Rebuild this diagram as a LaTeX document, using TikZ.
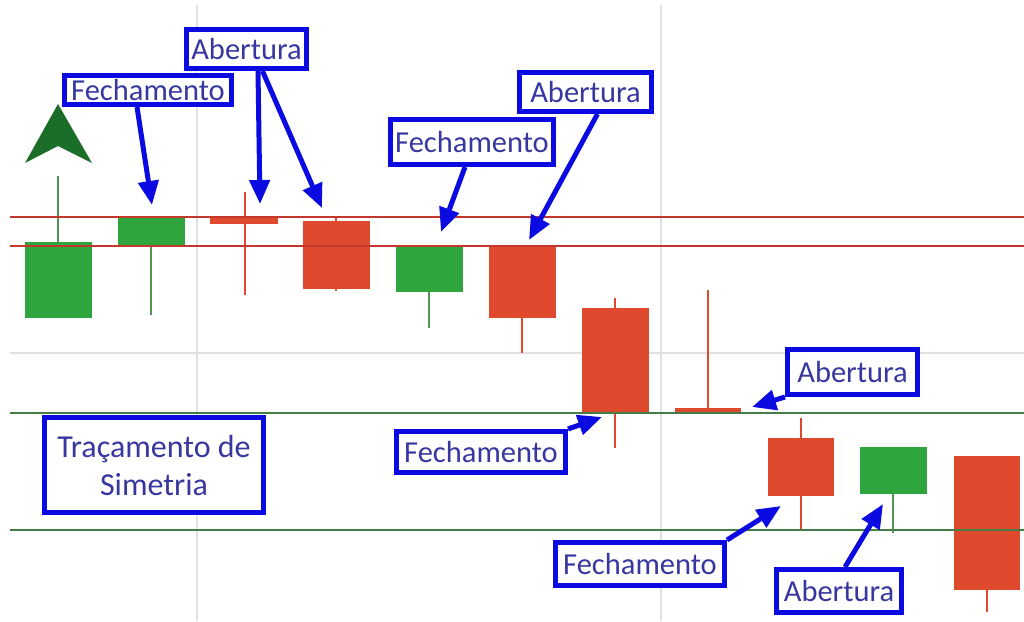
\documentclass[tikz,border=0pt]{standalone}
\usepackage{fontspec}
\setmainfont{Carlito}
\usetikzlibrary{arrows.meta}
\definecolor{cgreen}{RGB}{47,165,62}
\definecolor{cgreenw}{RGB}{80,150,85}
\definecolor{cred}{RGB}{223,74,46}
\definecolor{mgreen}{RGB}{27,110,40}
\definecolor{rline}{RGB}{195,55,45}
\definecolor{gline}{RGB}{70,125,70}
\definecolor{ggray}{RGB}{225,225,225}
\definecolor{bblue}{RGB}{10,10,225}
\definecolor{tblue}{RGB}{55,55,160}
\tikzset{
  lbl/.style={draw=bblue, line width=5pt, fill=white, text=tblue, inner sep=0pt,
    font=\fontsize{30.5}{37}\selectfont, align=center},
  arr/.style={draw=bblue, line width=5pt, -{Triangle[length=24pt,width=20pt]}},
  gw/.style={draw=cgreenw, line width=2pt},
  rw/.style={draw=cred, line width=2pt},
  gbody/.style={fill=cgreen},
  rbody/.style={fill=cred},
  hl/.style={line width=2pt},
  grid/.style={draw=ggray, line width=1.5pt}
}
\begin{document}
\begin{tikzpicture}[x=1pt,y=-1pt]
\useasboundingbox[fill=white] (0,0) rectangle (1024,621);
% grid
\draw[grid] (197,5) -- (197,621);
\draw[grid] (661,5) -- (661,621);
\draw[grid] (10,353) -- (1024,353);
% wicks
\draw[gw] (58,176) -- (58,242);
\draw[gw] (151,245) -- (151,315);
\draw[rw] (245,192) -- (245,295);
\draw[rw] (336,216) -- (336,291);
\draw[gw] (429,292) -- (429,328);
\draw[rw] (522,318) -- (522,353);
\draw[rw] (615,298) -- (615,448);
\draw[rw] (708,290) -- (708,411);
\draw[rw] (801,418) -- (801,530);
\draw[gw] (893,494) -- (893,533);
\draw[rw] (987,590) -- (987,612);
% bodies
\fill[gbody] (25,242) rectangle (92,318);
\fill[gbody] (118,217) rectangle (185,245);
\fill[rbody] (210,218) rectangle (278,224);
\fill[rbody] (303,221) rectangle (370,289);
\fill[gbody] (396,247) rectangle (463,292);
\fill[rbody] (489,247) rectangle (556,318);
\fill[rbody] (582,308) rectangle (649,412);
\fill[rbody] (675,408) rectangle (741,412);
\fill[rbody] (768,438) rectangle (834,496);
\fill[gbody] (860,447) rectangle (927,494);
\fill[rbody] (954,456) rectangle (1020,590);
% level lines
\draw[hl, rline] (10,217) -- (1024,217);
\draw[hl, rline] (10,246) -- (1024,246);
\draw[hl, gline] (10,413) -- (1024,413);
\draw[hl, gline] (10,530) -- (1024,530);
% marker
\fill[mgreen] (58,104) -- (25,163) -- (58,146) -- (92,163) -- cycle;
% arrow targets
\coordinate (t1) at (152,205);
\coordinate (t2) at (260,204);
\coordinate (t3) at (322,208);
\coordinate (t4) at (441,232);
\coordinate (t5) at (529,240);
\coordinate (t6) at (752,407);
\coordinate (t7) at (602,417);
\coordinate (t8) at (781,506);
\coordinate (t9) at (883,504);
% labels
\node[lbl, minimum width=167pt, minimum height=29pt] (A) at (148,90) {Fechamento};
\node[lbl, minimum width=120pt, minimum height=39pt] (B) at (246.5,49) {Abertura};
\node[lbl, minimum width=163pt, minimum height=45pt] (C) at (472,142) {Fechamento};
\node[lbl, minimum width=132pt, minimum height=39pt] (D) at (585.5,92) {Abertura};
\node[lbl, minimum width=130pt, minimum height=45pt] (E) at (852.5,372) {Abertura};
\node[lbl, minimum width=169pt, minimum height=41pt] (F) at (481,452) {Fechamento};
\node[lbl, minimum width=169pt, minimum height=43pt] (G) at (640,564) {Fechamento};
\node[lbl, minimum width=125pt, minimum height=43pt] (H) at (839,591) {Abertura};
\node[lbl, minimum width=219pt, minimum height=95pt, font=\fontsize{32}{38}\selectfont] (T) at (154,465) {Traçamento de\\Simetria};
% arrows
\draw[arr] ([xshift=-11pt]A.south) -- (t1);
\draw[arr] ([xshift=11.5pt]B.south) -- (t2);
\draw[arr] ([xshift=16pt]B.south) -- (t3);
\draw[arr] ([xshift=-7pt]C.south) -- (t4);
\draw[arr] ([xshift=12pt]D.south) -- (t5);
\draw[arr] (E.south west) -- (t6);
\draw[arr] (F.north east) -- (t7);
\draw[arr] (G.north east) -- (t8);
\draw[arr] ([xshift=6pt]H.north) -- (t9);
\end{tikzpicture}
\end{document}
